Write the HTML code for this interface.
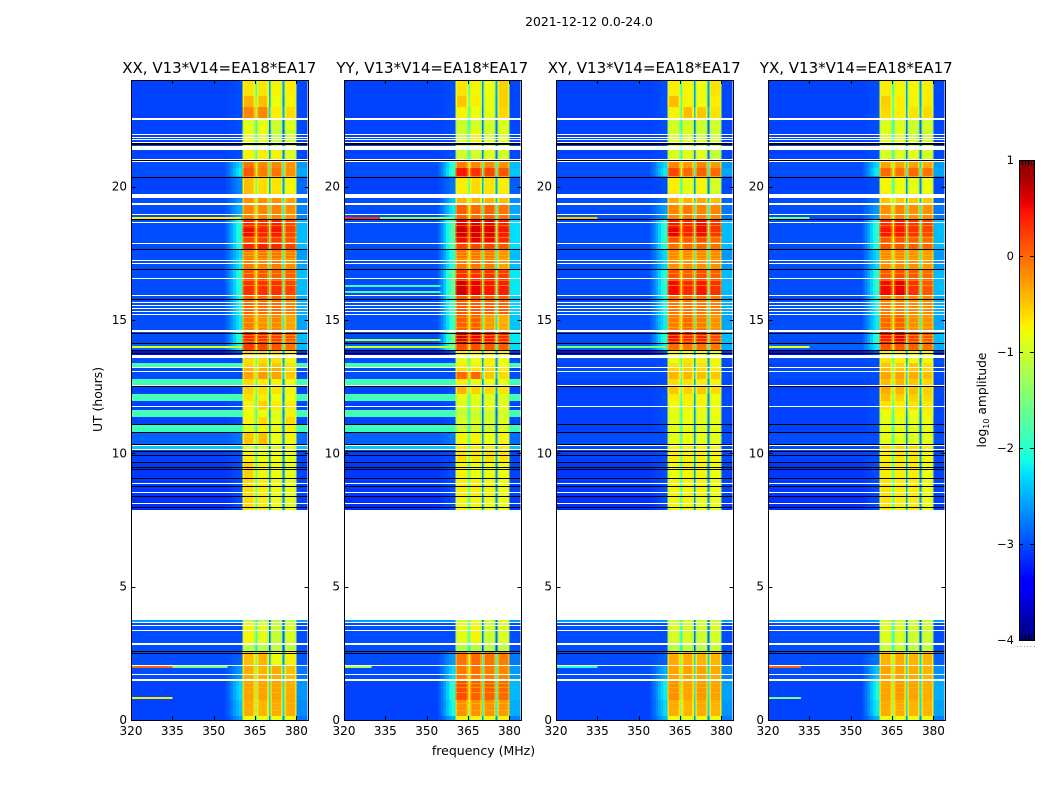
<!DOCTYPE html>
<html lang="en">
<head>
<meta charset="utf-8">
<title>2021-12-12 0.0-24.0</title>
<style>
html,body{margin:0;padding:0;background:#fff;}
svg{display:block;}
text{font-family:"DejaVu Sans","Liberation Sans",sans-serif;fill:#000;}
</style>
</head>
<body>
<svg id="figure" xmlns="http://www.w3.org/2000/svg" width="1050" height="800" viewBox="0 0 1050 800">
  <rect x="0" y="0" width="1050" height="800" fill="#fff"/>
  <text x="589" y="26" font-size="12.4" text-anchor="middle">2021-12-12 0.0-24.0</text>
  <text x="0" y="0" font-size="12.4" text-anchor="middle" transform="translate(102 399.5) rotate(-90)">UT (hours)</text>
  <text x="483.5" y="755" font-size="12.5" text-anchor="middle">frequency (MHz)</text>
  <text x="0" y="0" font-size="12.3" text-anchor="middle" transform="translate(986 400) rotate(-90)">log<tspan font-size="8" dy="3">10</tspan><tspan dy="-3"> amplitude</tspan></text>
</svg>
<script>
/* ---------- chart data ---------- */
const panelTitles = ['XX, V13*V14=EA18*EA17','YY, V13*V14=EA18*EA17','XY, V13*V14=EA18*EA17','YX, V13*V14=EA18*EA17'];
const xTickValues = [320,335,350,365,380];
const yTickValues = [0,5,10,15,20];
const colorbarTickValues = [-4,-3,-2,-1,0,1];

/* Row boundaries in UT hours, top of the plot first. 50 rows. */
const rowEdgesUT = [24,23.4,22.99,22.58,22.13,21.38,21,20.7,20.38,19.73,19.39,18.79,18.45,18.15,17.85,17.66,17.33,16.91,16.5,15.9,15.23,14.59,14.14,13.88,13.69,13.39,13.22,13.05,12.79,12.54,12.23,11.97,11.63,11.36,11.06,10.78,10.35,10.13,9.68,9,8.36,7.88,3.75,3.64,2.89,2.59,2.06,1.5,0.75,0.15,0];

/* Channel boundaries in MHz and what each channel reads from */
const channelEdgesMHz = [320,354,355,356,357,358,359,360.4,361,364.5,365.1,365.7,366.3,369.4,370,370.5,371.1,374.3,374.9,375.6,376.2,379.5,380.1,384];
const channelRoles = ['bg','sh','sh','sh','sh','sh','sh','b1','b1','b1','g1','b2','b2','b2','g2','b3','b3','b3','g3','b4','b4','b4','edge'];
const shoulderBlend = [0,0.1,0.25,0.45,0.65,0.85,1,0,0,0,0,0,0,0,0,0,0,0,0,0,0,0,0.55];
const bandEdgeOffset = [0,0,0,0,0,0,0,-0.3,0,-0.3,0,-0.3,0,-0.3,0,-0.3,0,-0.3,0,-0.3,0,-0.3,0];

/* log10 amplitude per row */
const backgroundParallel = [-3.05,-3.05,-3.05,-3.05,-3.05,-3.05,-3,-3,-3.05,-3,-3,-3,-3,-3,-3,-3,-3,-3,-3,-3,-3,-3,-2.9,-3.3,-3,-1.85,-3,-3,-1.85,-3.05,-1.85,-3.05,-1.85,-3.05,-1.9,-2.9,-2.4,-3.05,-3.1,-3.1,-3.15,null,-2.6,-3,-3,-3,-3,-3.05,-3.05,-3.05];
const backgroundCross = [-3.05,-3.05,-3.05,-3.05,-3.05,-3.05,-3,-3,-3.05,-3,-3,-3,-3,-3,-3,-3,-3,-3,-3,-3,-3,-3,-2.9,-3.3,-3,-3.05,-3,-3,-3.05,-3.05,-3.05,-3.05,-3.05,-3.05,-3.05,-3,-3,-3.05,-3.1,-3.1,-3.15,null,-2.6,-3,-3,-3,-3,-3.05,-3.05,-3.05];

const shoulderXX = [-3,-3,-3,-3,-3,-3,-2.3,-2.2,-2.7,-2.6,-2.5,-2,-2,-2,-2,-2.3,-2.2,-2,-2,-2.1,-2.2,-2,-2.1,-3,-3,-1.85,-3,-3,-1.85,-3,-1.85,-3,-1.85,-3,-1.9,-2.8,-2.4,-3,-3,-3,-3,null,-2.6,-3,-3,-2.9,-2.6,-2.3,-2.4,-2.6];
const shoulderYY = [-3,-3,-3,-3,-3,-3,-2,-1.9,-2.8,-2.4,-2.2,-1.7,-1.7,-1.7,-1.7,-2,-2,-1.6,-1.6,-1.8,-1.9,-1.6,-1.8,-3,-3,-1.85,-3,-3,-1.85,-3,-1.85,-3,-1.85,-3,-1.9,-2.8,-2.4,-3,-3,-3,-3,null,-2.6,-3,-3,-2.6,-2.3,-2,-2.1,-2.5];
const shoulderXY = [-3,-3,-3,-3,-3,-3,-2.3,-2.2,-3,-2.8,-2.6,-2,-2,-2,-2,-2.3,-2.3,-2,-2,-2.1,-2.2,-2,-2.2,-3,-3,-3,-3,-3,-3,-3,-3,-3,-3,-3,-3,-3,-3,-3,-3,-3,-3,null,-2.6,-3,-3,-2.9,-2.5,-2.2,-2.3,-2.5];
const shoulderYX = [-3,-3,-3,-3,-3,-3,-2.3,-2.2,-3,-2.8,-2.6,-2,-2,-2,-2,-2.3,-2.3,-2,-2,-2.1,-2.2,-2,-2.2,-3,-3,-3,-3,-3,-3,-3,-3,-3,-3,-3,-3,-3,-3,-3,-3,-3,-3,null,-2.6,-3,-3,-2.8,-2.4,-2.1,-2.2,-2.5];

const band1XX = [-.65,-.4,-.15,-.85,-.85,-.75,-.05,.1,-.45,-.2,-.15,.35,.5,.2,.35,-.1,-.1,.1,.3,0,-.1,.35,.25,-.55,-.6,-.55,-.4,-.3,-.6,-.55,-.65,-.75,-.8,-.75,-.9,-.5,-.9,-.7,-.55,-.6,-.6,null,-1.1,-.75,-1.1,-.45,-.35,-.3,-.35,-.8];
const band2XX = [-.65,-.45,-.15,-.8,-.85,-.7,-.15,-.1,-.6,-.2,-.15,.3,.4,.25,.4,-.05,-.15,.1,.3,0,-.2,.3,.2,-.55,-.6,-.5,-.4,-.25,-.7,-.6,-.7,-.55,-.8,-.6,-.75,-.45,-.85,-.8,-.75,-.7,-.7,null,-1.1,-.85,-1.1,-.4,-.4,-.3,-.4,-.8];
const band3XX = [-.75,-.8,-.7,-1,-1.1,-.75,-.15,-.05,-.65,-.2,-.15,.4,.45,.25,.35,-.05,-.1,.05,.3,0,-.15,.25,.1,-.6,-.65,-.5,-.35,-.3,-.75,-.65,-.8,-.7,-.9,-.85,-.85,-.8,-.9,-.8,-.8,-.8,-.8,null,-1.15,-1.05,-1.1,-.8,-.35,-.3,-.35,-.8];
const band4XX = [-.7,-.75,-.6,-.9,-1,-.9,-.25,-.2,-.75,-.3,-.2,.2,.2,.1,.2,-.1,-.2,.05,.2,-.1,-.3,.1,-.05,-.7,-.75,-.65,-.65,-.5,-.8,-.75,-.8,-.7,-.75,-.6,-.75,-.75,-.85,-.85,-.85,-.85,-.85,null,-1.1,-.95,-1.1,-.7,-.45,-.35,-.35,-.8];

const band1YY = [-.65,-.5,-.75,-1,-1,-1,-.1,.45,-.7,-.4,.05,.55,.65,.5,.2,-.05,-.1,.3,.65,.1,.05,.65,.15,-.7,-.85,-.7,-.6,0,-.7,-.4,-.85,-.9,-1.05,-.95,-1,-.75,-.7,-.6,-.75,-.7,-.75,null,-.95,-.85,-1.15,-.05,-.1,.15,-.2,-.75];
const band2YY = [-.75,-.7,-.8,-.95,-.75,-.95,-.15,.3,-.6,-.4,0,.6,.65,.55,.2,-.05,-.05,.3,.55,.1,.05,.55,.15,-.7,-.8,-.75,-.65,0,-.85,-.55,-.85,-.9,-1,-.95,-.95,-.75,-.7,-.65,-.8,-.7,-.75,null,-.9,-.75,-1.15,0,-.05,.05,-.2,-.75];
const band3YY = [-.8,-.85,-.85,-.95,-.95,-.85,-.15,.2,-.65,-.4,.05,.55,.6,.5,.2,-.05,-.1,.3,.45,.05,-.25,.45,.1,-.7,-.7,-.7,-.6,-.5,-.8,-.6,-.9,-.85,-1,-.95,-1,-.8,-.75,-.6,-.8,-.75,-.8,null,-1,-1,-1.15,-.05,-.1,.05,-.2,-.75];
const band4YY = [-.55,-.55,-.6,-.9,-.9,-.95,-.2,.1,-.7,-.45,-.05,.4,.45,.35,.1,-.2,-.3,.25,.4,.05,-.35,.35,.05,-.75,-.8,-.8,-.7,-.6,-.85,-.65,-.9,-.85,-.95,-.9,-.9,-.75,-.7,-.65,-.8,-.8,-.8,null,-.95,-.9,-1.1,-.1,-.15,0,-.25,-.75];

const band1XY = [-.7,-.45,-.75,-.95,-.95,-.9,-.15,.2,-.7,-.35,-.15,.45,.55,.15,-.05,-.15,-.2,.15,.5,-.05,-.1,.5,0,-.8,-.8,-.65,-.55,-.4,-.6,-.5,-.7,-.8,-.85,-.85,-.85,-.85,-.75,-.7,-.8,-.75,-.75,null,-1,-.95,-1.1,-.35,-.3,-.2,-.35,-.8];
const band2XY = [-.75,-.75,-.45,-.95,-.9,-.85,-.25,0,-.85,-.4,-.1,.35,.4,.1,0,-.15,-.2,.05,.35,-.05,0,.35,-.05,-.8,-.65,-.6,-.55,-.4,-.65,-.55,-.7,-.75,-.8,-.8,-.85,-.8,-.75,-.7,-.75,-.75,-.75,null,-1,-.95,-1.1,-.35,-.3,-.3,-.4,-.8];
const band3XY = [-.8,-.8,-.5,-1,-1,-.85,-.15,.05,-.75,-.35,-.15,.5,.5,.15,0,-.15,-.2,.15,.45,-.05,-.1,.4,-.05,-.8,-.7,-.65,-.6,-.45,-.7,-.5,-.75,-.75,-.85,-.85,-.9,-.85,-.75,-.7,-.75,-.75,-.8,null,-1,-1,-1.1,-.4,-.3,-.25,-.35,-.8];
const band4XY = [-.65,-.7,-.65,-.95,-1,-1.05,-.25,0,-.95,-.45,-.15,.3,.3,0,-.05,-.15,-.2,.05,.3,-.1,-.2,.2,-.1,-.85,-.75,-.75,-.7,-.5,-.75,-.6,-.8,-.8,-.8,-.85,-.85,-.85,-.8,-.75,-.8,-.8,-.8,null,-1,-.95,-1.05,-.4,-.35,-.3,-.4,-.8];

const band1YX = [-.7,-.55,-.6,-.9,-.9,-.9,-.3,0,-.75,-.5,-.2,.35,.45,.1,.1,-.15,-.2,.1,.5,-.1,0,.45,.1,-.7,-.65,-.5,-.45,-.3,-.45,-.35,-.45,-.65,-.8,-.85,-.85,-.85,-.6,-.7,-.7,-.65,-.65,null,-1,-.9,-1.05,-.4,-.3,-.3,-.35,-.8];
const band2YX = [-.75,-.7,-.7,-.9,-.9,-.9,-.3,-.05,-.8,-.5,-.15,.4,.45,.15,.1,-.15,-.2,.15,.55,-.1,.05,.55,.1,-.7,-.7,-.55,-.5,-.3,-.4,-.4,-.55,-.7,-.75,-.85,-.85,-.85,-.6,-.65,-.7,-.7,-.7,null,-1,-.95,-1.05,-.35,-.3,-.25,-.35,-.8];
const band3YX = [-.75,-.75,-.65,-1,-1,-.85,-.3,0,-.85,-.5,-.2,.3,.3,.05,.05,-.2,-.2,.1,.3,-.15,-.2,.25,.05,-.75,-.75,-.5,-.5,-.35,-.5,-.45,-.55,-.65,-.8,-.85,-.9,-.9,-.6,-.65,-.7,-.7,-.7,null,-1,-1,-1.1,-.4,-.35,-.3,-.4,-.8];
const band4YX = [-.7,-.7,-.6,-.95,-1,-.95,-.35,-.05,-.8,-.5,-.2,.2,.2,0,0,-.25,-.25,0,.1,-.15,-.2,.1,-.05,-.75,-.75,-.6,-.6,-.45,-.6,-.55,-.6,-.7,-.75,-.8,-.85,-.85,-.7,-.75,-.8,-.8,-.8,null,-1,-1,-1.05,-.4,-.4,-.35,-.4,-.8];

/* How far the gaps between the four sub-bands fall below their neighbours */
const gapDropXX = [1.1,1.9,1.9];
const gapDropYY = [1.0,1.9,1.9];
const gapDropXY = [1.1,1.9,1.9];
const gapDropYX = [1.1,1.9,1.9];

/* Flagged rows, shared by all panels: [start UT, end UT] */
const blankRowsUT = [[22.58,22.52],[21.99,21.96],[21.88,21.84],[21.77,21.73],[21.66,21.62],[21.53,21.38],[21.04,21],[20.96,20.93],[19.73,19.58],[19.39,19.33],[18.99,18.96],[18.69,18.66],[17.87,17.83],[17.25,17.21],[17.14,17.1],[16.59,16.56],[15.92,15.88],[15.68,15.64],[15.56,15.53],[15.45,15.41],[15.34,15.3],[15.24,15.21],[14.61,14.55],[13.69,13.58],[13.22,13.18],[13.09,13.05],[12.58,12.54],[11.79,11.76],[10.31,10.28],[10.16,10.13],[8.87,8.83],[8.55,8.51],[8.12,8.08],[3.68,3.64],[3.56,3.53],[3.36,3.32],[2.89,2.81],[2.08,2.04],[1.74,1.7],[1.54,1.46]];
const blackRowsUT = [[21.62,21.53],[21,20.96],[20.38,20.34],[18.77,18.73],[17.68,17.64],[16.93,16.89],[15.77,15.73],[14.53,14.49],[14.14,14.1],[13.88,13.84],[13.76,13.73],[12.54,12.51],[11.1,11.06],[10.8,10.76],[10.36,10.32],[10.07,10.03],[9.94,9.9],[9.68,9.64],[9.5,9.46],[9.4,9.36],[9.08,9.04],[8.78,8.74],[8.41,8.37],[8,7.96],[2.6,2.57],[2.52,2.5]];

/* Thin lighter rows seen inside the four sub-bands, as UT hours */
const bandStripeUT = [18.56,18.3,18.11,17.93,17.55,17.44,17.33,16.76,16.5,16.31,15.11,14.93,14.74,14.44,14.33,14.21,1.39,1.24,1.05,.64,.38];
const bandStripeLevel = [-.5];

/* Narrow interference streaks: [UT, start MHz, end MHz, log10 amplitude] */
const streaksXX = [[18.88,320,360,-.7],[14.03,320,360,-.9],[2.01,320,335,0],[2.01,335,355,-1.5],[.86,320,335,-.7]];
const streaksYY = [[18.88,320,333,.3],[18.88,333,360,-1.5],[14.03,320,360,-1],[14.3,320,355,-1.2],[2.01,320,330,-1.2],[16.3,320,355,-1.9],[16.1,320,355,-1.8]];
const streaksXY = [[18.88,320,335,-.5],[14.03,320,360,-1.5],[2.01,320,335,-2]];
const streaksYX = [[18.88,320,335,-1.6],[14.03,320,335,-.8],[2.01,320,332,0],[.86,320,332,-1.5]];

/* Which arrays each panel uses */
const panelBackground = [backgroundParallel,backgroundParallel,backgroundCross,backgroundCross];
const panelShoulder = [shoulderXX,shoulderYY,shoulderXY,shoulderYX];
const panelBand1 = [band1XX,band1YY,band1XY,band1YX];
const panelBand2 = [band2XX,band2YY,band2XY,band2YX];
const panelBand3 = [band3XX,band3YY,band3XY,band3YX];
const panelBand4 = [band4XX,band4YY,band4XY,band4YX];
const panelGapDrop = [gapDropXX,gapDropYY,gapDropXY,gapDropYX];
const panelStreaks = [streaksXX,streaksYY,streaksXY,streaksYX];

/* ---------- layout ---------- */
const SVGNS = 'http://www.w3.org/2000/svg';
const svg = document.getElementById('figure');
const PANEL_LEFT = [131,344,556,768];
const PANEL_WIDTH = 176.5;
const PLOT_TOP = 80, PLOT_BOTTOM = 720;
const CB_LEFT = 1019, CB_RIGHT = 1034, CB_TOP = 160, CB_BOTTOM = 640;

function xScale(p, mhz){ return PANEL_LEFT[p] + (mhz - 320) * PANEL_WIDTH / 64; }
function yScale(ut){ return PLOT_BOTTOM - (ut / 24) * (PLOT_BOTTOM - PLOT_TOP); }
function cbScale(v){ return CB_BOTTOM - ((v + 4) / 5) * (CB_BOTTOM - CB_TOP); }

function interp(t, pts){
  if (t <= pts[0][0]) return pts[0][1];
  for (let i = 1; i < pts.length; i++){
    if (t <= pts[i][0]){
      const a = pts[i-1], b = pts[i];
      return a[1] + (b[1]-a[1]) * (t-a[0]) / (b[0]-a[0]);
    }
  }
  return pts[pts.length-1][1];
}
function jet(v){
  const t = Math.max(0, Math.min(1, (v + 4) / 5));
  const r = interp(t, [[0,0],[.35,0],[.66,1],[.89,1],[1,.5]]);
  const g = interp(t, [[0,0],[.125,0],[.375,1],[.64,1],[.91,0],[1,0]]);
  const b = interp(t, [[0,.5],[.11,1],[.34,1],[.65,0],[1,0]]);
  return 'rgb(' + Math.round(r*255) + ',' + Math.round(g*255) + ',' + Math.round(b*255) + ')';
}

function cellValue(p, row, c){
  const role = channelRoles[c];
  const bg = panelBackground[p][row];
  const sh = panelShoulder[p][row];
  const b = [panelBand1[p][row],panelBand2[p][row],panelBand3[p][row],panelBand4[p][row]];
  if (role === 'bg') return bg;
  if (role === 'sh' || role === 'edge') return bg + (sh - bg) * shoulderBlend[c];
  if (role[0] === 'b') return b[+role[1]-1] + bandEdgeOffset[c];
  const k = +role[1]-1;
  return (b[k] + b[k+1]) / 2 - panelGapDrop[p][k];
}

function addRect(parent, x, y, w, h, fill){
  const r = document.createElementNS(SVGNS,'rect');
  r.setAttribute('x', x.toFixed(2));
  r.setAttribute('y', y.toFixed(2));
  r.setAttribute('width', w.toFixed(2));
  r.setAttribute('height', h.toFixed(2));
  r.setAttribute('fill', fill);
  r.setAttribute('shape-rendering','crispEdges');
  parent.appendChild(r);
  return r;
}
/* Full-width flagged row, snapped so each keeps its real pixel height */
function addFlagRow(parent, p, startUT, endUT, fill){
  const y0 = Math.round(yScale(startUT));
  const h = Math.max(1, Math.round(yScale(endUT) - yScale(startUT)));
  return addRect(parent, xScale(p,320), y0, PANEL_WIDTH, h, fill);
}
function addLine(parent, x1, y1, x2, y2){
  const l = document.createElementNS(SVGNS,'line');
  l.setAttribute('x1', x1);
  l.setAttribute('y1', y1);
  l.setAttribute('x2', x2);
  l.setAttribute('y2', y2);
  l.setAttribute('stroke', '#000');
  l.setAttribute('stroke-width', '1');
  l.setAttribute('shape-rendering','crispEdges');
  parent.appendChild(l);
  return l;
}
function addText(parent, x, y, str, anchor){
  const t = document.createElementNS(SVGNS,'text');
  t.setAttribute('x', x);
  t.setAttribute('y', y);
  t.setAttribute('font-size', '12');
  t.setAttribute('text-anchor', anchor);
  t.textContent = str;
  parent.appendChild(t);
  return t;
}

/* ---------- panels ---------- */
panelTitles.forEach(function(title, p){
  const g = document.createElementNS(SVGNS,'g');
  
  
  svg.appendChild(g);

  for (let row = 0; row < rowEdgesUT.length - 1; row++){
    if (panelBackground[p][row] === null) continue;
    const y0 = yScale(rowEdgesUT[row]), y1 = yScale(rowEdgesUT[row+1]);
    for (let c = 0; c < channelRoles.length; c++){
      const x0 = xScale(p, channelEdgesMHz[c]), x1 = xScale(p, channelEdgesMHz[c+1]);
      const cell = addRect(g, x0, y0, x1-x0, y1-y0, jet(cellValue(p, row, c)));
      
      
    }
  }

  bandStripeUT.forEach(function(ut){
    const x0 = xScale(p, 360.4), x1 = xScale(p, 380.1);
    const stripe = addRect(g, x0, Math.round(yScale(ut)), x1-x0, 1, jet(bandStripeLevel[0]));
    stripe.setAttribute('opacity', '0.55');
    
    
  });

  panelStreaks[p].forEach(function(s){
    const x0 = xScale(p, s[1]), x1 = xScale(p, s[2]);
    const streak = addRect(g, x0, Math.round(yScale(s[0])), x1-x0, 2, jet(s[3]));
    
    
  });

  blankRowsUT.forEach(function(b){
    const blank = addFlagRow(g, p, b[0], b[1], '#fff');
    
    
  });
  blackRowsUT.forEach(function(b){
    const black = addFlagRow(g, p, b[0], b[1], '#000');
    
    
  });

  const left = Math.round(PANEL_LEFT[p]) + 0.5;
  const right = Math.round(PANEL_LEFT[p] + PANEL_WIDTH) + 0.5;

  const frame = document.createElementNS(SVGNS,'rect');
  frame.setAttribute('x', left);
  frame.setAttribute('y', PLOT_TOP + 0.5);
  frame.setAttribute('width', right - left);
  frame.setAttribute('height', PLOT_BOTTOM - PLOT_TOP);
  frame.setAttribute('fill', 'none');
  frame.setAttribute('stroke', '#000');
  frame.setAttribute('shape-rendering', 'crispEdges');
  
  
  g.appendChild(frame);

  xTickValues.forEach(function(v){
    const x = Math.round(xScale(p, v)) + 0.5;
    const tickBottom = addLine(g, x, PLOT_BOTTOM, x, PLOT_BOTTOM - 4);
    
    
    const tickTop = addLine(g, x, PLOT_TOP, x, PLOT_TOP + 4);
    
    
    const label = addText(g, xScale(p, v), PLOT_BOTTOM + 15, String(v), 'middle');
    
    
  });

  yTickValues.forEach(function(v){
    const y = Math.round(yScale(v)) + 0.5;
    const tickLeft = addLine(g, left, y, left + 4, y);
    
    
    const tickRight = addLine(g, right, y, right - 4, y);
    
    
    const label = addText(g, PANEL_LEFT[p] - 4, yScale(v) + 4, String(v), 'end');
    
    
  });

  const titleEl = addText(g, PANEL_LEFT[p] + PANEL_WIDTH / 2, 73, title, 'middle');
  titleEl.setAttribute('font-size', '15');
  
  
});

/* ---------- colorbar ---------- */
const cb = document.createElementNS(SVGNS,'g');


svg.appendChild(cb);
for (let py = CB_TOP; py < CB_BOTTOM; py++){
  const swatch = addRect(cb, CB_LEFT, py, CB_RIGHT - CB_LEFT, 1, jet(1 - 5 * (py + 0.5 - CB_TOP) / (CB_BOTTOM - CB_TOP)));
  
  
}
const cbFrame = document.createElementNS(SVGNS,'rect');
cbFrame.setAttribute('x', CB_LEFT + 0.5);
cbFrame.setAttribute('y', CB_TOP + 0.5);
cbFrame.setAttribute('width', CB_RIGHT - CB_LEFT);
cbFrame.setAttribute('height', CB_BOTTOM - CB_TOP);
cbFrame.setAttribute('fill', 'none');
cbFrame.setAttribute('stroke', '#000');
cbFrame.setAttribute('shape-rendering', 'crispEdges');


cb.appendChild(cbFrame);

colorbarTickValues.forEach(function(v){
  const y = Math.round(cbScale(v)) + 0.5;
  const tickA = addLine(cb, CB_LEFT, y, CB_LEFT + 4, y);
  
  
  const tickB = addLine(cb, CB_RIGHT, y, CB_RIGHT - 4, y);
  
  
  const label = addText(cb, CB_LEFT - 5, cbScale(v) + 4, v < 0 ? '\u2212' + Math.abs(v) : String(v), 'end');
  label.setAttribute('font-size', '11.5');
  
  
});

for (let i = 1; i < 5; i++){
  const x = CB_LEFT + i * 3 + 0.5;
  const topMark = addLine(cb, x, CB_TOP, x, CB_TOP + 5);
  
  
  const bottomMark = addLine(cb, x, CB_BOTTOM, x, CB_BOTTOM - 5);
  
  
}

for (let i = 0; i < 6; i++){
  const dot = addRect(cb, 1017 + i * 3.4, 646, 1, 1, '#999');
  
  
}
</script>
</body>
</html>
